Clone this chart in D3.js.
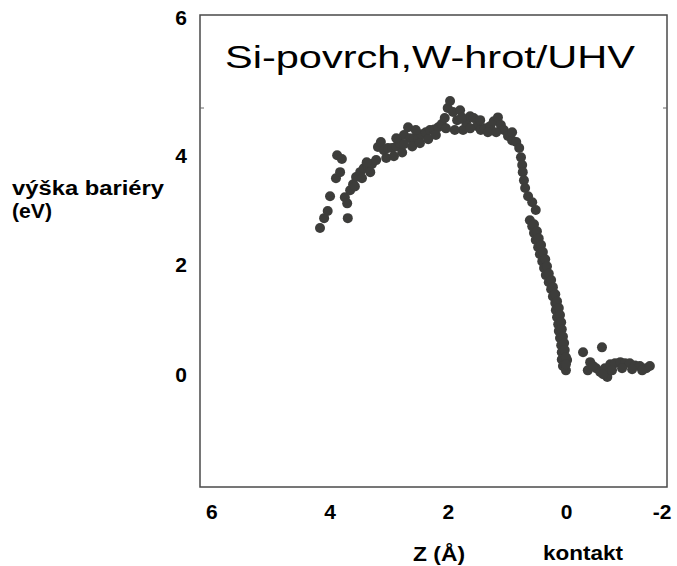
<!DOCTYPE html>
<html>
<head>
<meta charset="utf-8">
<script src="https://cdn.jsdelivr.net/npm/d3@7/dist/d3.min.js"></script>
<style>
  html, body { margin: 0; padding: 0; background: #fff; }
  svg { display: block; }
  text { font-family: "Liberation Sans", Arial, sans-serif; fill: #000; }
</style>
</head>
<body>
<svg id="chart" width="677" height="566"></svg>
<script>
// ---- data (z in Å, barrier height in eV) ----
const zValues = [
  4.17, 4.10, 4.04, 4.00, 3.90, 3.83, 3.88, 3.80, 3.75, 3.71, 3.70, 3.66, 3.61, 3.56, 3.49,
  3.43, 3.36, 3.29, 3.22, 3.19, 3.14, 3.09, 3.02, 2.95, 2.88, 2.82, 2.75, 2.68, 2.65, 2.58,
  2.51, 2.45, 2.38, 2.31, 2.24, 2.17, 2.11, 2.06, 2.01, 1.97, 1.92, 1.85, 1.80, 1.75, 1.70,
  1.63, 1.57, 1.51, 1.45, 1.38, 1.29, 1.23, 1.16, 1.11, 1.06, 0.99, 0.92, 0.85, 0.80, 0.77,
  0.75, 0.74, 0.72, 0.70, 0.65, 0.58, 0.52, 0.62, 0.58, 0.55, 0.52, 0.48, 0.45, 0.41, 0.38,
  0.35, 0.30, 0.26, 0.23, 0.19, 0.18, 0.16, 0.14, 0.13, 0.11, 0.09, 0.08, 0.08, 0.06,
  -0.28, -0.60, -0.40, -0.50, -0.57, -0.65, -0.74, -0.82, -0.91, -0.99, -1.07, -1.16, -1.24, -1.35, -0.69,
  3.05, 2.92, 2.78, 2.61, 2.48, 2.34, 1.89, 1.63, 1.33, 1.19, -0.01, 0.01,
  0.55, 0.50, 0.47, 0.43, 0.40, 0.36, 0.33, 0.30, 0.26, 0.23, 0.19, 0.16, 0.13, 0.11, 0.09,
  0.08, 0.06, 0.04, 0.03, 0.01, 0.01,
  -0.36, -0.45, -0.62, -0.77, -0.94, -1.11, -1.28, -1.41,
  2.55, 2.88, 2.75, 2.21, 2.04, 1.77, 1.46, 0.92, 3.58, 3.46, 3.32, 3.38
];
const barrierValues = [
  2.67, 2.85, 2.98, 3.25, 3.58, 3.69, 4.00, 3.93, 3.23, 3.12, 2.85, 3.36, 3.47, 3.60, 3.69,
  3.76, 3.80, 3.84, 3.91, 4.15, 4.24, 4.09, 4.13, 4.13, 4.16, 4.22, 4.37, 4.51, 4.31, 4.31,
  4.31, 4.38, 4.42, 4.46, 4.47, 4.51, 4.57, 4.68, 4.86, 4.99, 4.79, 4.64, 4.82, 4.46, 4.60,
  4.71, 4.68, 4.53, 4.46, 4.49, 4.53, 4.62, 4.69, 4.55, 4.46, 4.35, 4.27, 4.24, 4.13, 3.96,
  3.82, 3.69, 3.54, 3.40, 3.25, 3.14, 3.00, 2.81, 2.70, 2.58, 2.45, 2.32, 2.19, 2.06, 1.94,
  1.81, 1.68, 1.55, 1.42, 1.30, 1.17, 1.04, 0.91, 0.79, 0.66, 0.53, 0.40, 0.27, 0.15,
  0.40, 0.49, 0.22, 0.11, 0.04, 0.11, 0.18, 0.20, 0.22, 0.20, 0.20, 0.16, 0.15, 0.11, -0.05,
  3.95, 3.98, 4.05, 4.16, 4.22, 4.29, 4.46, 4.49, 4.42, 4.42, 0.26, 0.07,
  2.74, 2.61, 2.48, 2.36, 2.23, 2.10, 1.97, 1.84, 1.72, 1.59, 1.46, 1.33, 1.21, 1.08, 0.95,
  0.82, 0.69, 0.57, 0.44, 0.31, 0.18,
  0.07, 0.15, 0.00, 0.07, 0.11, 0.09, 0.07, 0.15,
  4.46, 4.31, 4.20, 4.37, 4.49, 4.69, 4.64, 4.42, 3.43, 3.58, 3.69, 3.87
];
const xTickValues = [6, 4, 2, 0, -2];
const yTickValues = [0, 2, 4, 6];
const titleText = "Si-povrch,W-hrot/UHV";
const yLabelLines = ["výška bariéry", "(eV)"];
const xLabelText = "Z (Å)";
const xLabel2Text = "kontakt";

// ---- layout ----
const frame = { left: 200, right: 667, top: 15, bottom: 487 };
const svg = d3.select("#chart");

const x = d3.scaleLinear().domain([6.2, -1.7]).range([frame.left, frame.right]);
const y = d3.scaleLinear().domain([-2.06, 6.56]).range([frame.bottom, frame.top]);

const points = zValues.map((z, i) => ({ z, b: barrierValues[i] }));

// frame
svg.append("rect")
  .attr("x", frame.left).attr("y", frame.top)
  .attr("width", frame.right - frame.left).attr("height", frame.bottom - frame.top)
  .attr("fill", "none").attr("stroke", "#4a4a4a").attr("stroke-width", 1.5);

// small marks at the edge of the title area
svg.append("line").attr("x1", frame.left).attr("x2", frame.left + 4)
  .attr("y1", 108).attr("y2", 108).attr("stroke", "#666").attr("stroke-width", 1);
svg.append("line").attr("x1", frame.right - 4).attr("x2", frame.right)
  .attr("y1", 108).attr("y2", 108).attr("stroke", "#666").attr("stroke-width", 1);

// data points
svg.append("g").selectAll("circle").data(points).join("circle")
  .attr("cx", d => x(d.z))
  .attr("cy", d => y(d.b))
  .attr("r", 5)
  .attr("fill", "#3d3d3b");

// title
svg.append("text")
  .attr("x", 225).attr("y", 68)
  .attr("font-size", 32)
  .attr("textLength", 410).attr("lengthAdjust", "spacingAndGlyphs")
  .text(titleText);

// y tick labels
const yTop = d3.max(yTickValues);
svg.append("g").selectAll("text").data(yTickValues).join("text")
  .attr("x", 187)
  .attr("y", d => d === yTop ? frame.top + 10 : y(d) + 7.5)
  .attr("text-anchor", "end")
  .attr("font-size", 21).attr("font-weight", "bold")
  .text(d => d);

// x tick labels
svg.append("g").selectAll("text").data(xTickValues).join("text")
  .attr("x", d => Math.min(x(d), 662))
  .attr("y", 519)
  .attr("text-anchor", "middle")
  .attr("font-size", 21).attr("font-weight", "bold")
  .text(d => d);

// y axis label
svg.append("text").attr("x", 12).attr("y", 195)
  .attr("font-size", 20).attr("font-weight", "bold")
  .attr("textLength", 152).attr("lengthAdjust", "spacingAndGlyphs")
  .text(yLabelLines[0]);
svg.append("text").attr("x", 12).attr("y", 218)
  .attr("font-size", 20).attr("font-weight", "bold")
  .attr("textLength", 40).attr("lengthAdjust", "spacingAndGlyphs")
  .text(yLabelLines[1]);

// x axis labels
svg.append("text").attr("x", 413).attr("y", 561)
  .attr("font-size", 21).attr("font-weight", "bold")
  .attr("textLength", 52).attr("lengthAdjust", "spacingAndGlyphs")
  .text(xLabelText);
svg.append("text").attr("x", 543).attr("y", 560)
  .attr("font-size", 21).attr("font-weight", "bold")
  .attr("textLength", 80).attr("lengthAdjust", "spacingAndGlyphs")
  .text(xLabel2Text);
</script>
</body>
</html>
